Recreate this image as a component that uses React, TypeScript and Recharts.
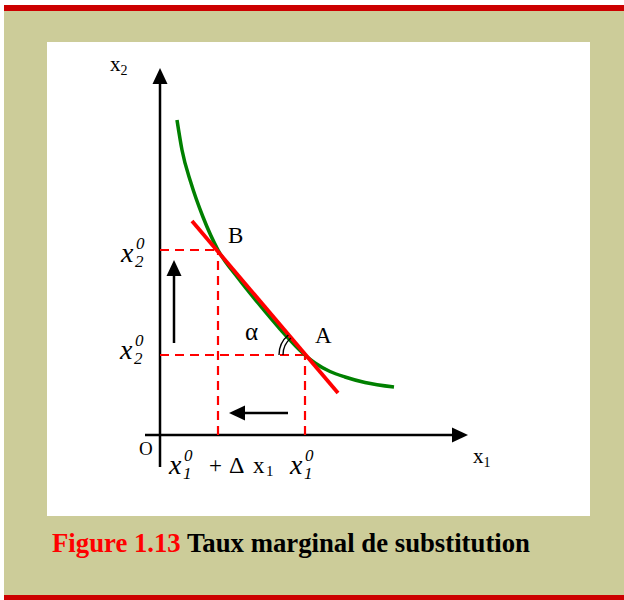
import { ComposedChart, Line, XAxis, YAxis, ReferenceDot } from "recharts"

// indifference curve (x1, x2)
const indifferenceCurve = [
  { x: 1.7, y: 31.5 },
  { x: 2.2, y: 28.5 },
  { x: 3.1, y: 25.2 },
  { x: 4.3, y: 21.8 },
  { x: 5.8, y: 18.5 },
  { x: 7.8, y: 15.7 },
  { x: 9.8, y: 13.2 },
  { x: 12.0, y: 10.6 },
  { x: 14.5, y: 8.0 },
  { x: 15.5, y: 7.2 },
  { x: 17.0, y: 6.35 },
  { x: 18.5, y: 5.8 },
  { x: 20.5, y: 5.25 },
  { x: 23.4, y: 4.8 },
]

const tangentLine = [
  { x: 3.2, y: 21.4 },
  { x: 17.8, y: 4.2 },
]

const pointB = { x: 5.8, y: 18.5 }
const pointA = { x: 14.5, y: 8.0 }

const xAxisLine = [
  { x: -1.5, y: 0 },
  { x: 30.8, y: 0 },
]
const yAxisLine = [
  { x: 0, y: -3.2 },
  { x: 0, y: 36.7 },
]

const upArrow = [
  { x: 1.4, y: 9.2 },
  { x: 1.4, y: 17.5 },
]
const leftArrow = [
  { x: 12.8, y: 2.2 },
  { x: 6.9, y: 2.2 },
]

const RED = "#ff0000"
const GREEN = "#008000"
const FONT = "'Liberation Serif', 'Times New Roman', serif"
const HEAD = 1.5 // arrow head length in data units

const shorten = (seg: { x: number; y: number }[]) => {
  const [a, b] = seg
  const dx = b.x - a.x
  const dy = b.y - a.y
  const len = Math.hypot(dx, dy)
  return [a, { x: b.x - (dx / len) * HEAD, y: b.y - (dy / len) * HEAD }]
}

const Head = (dir: "up" | "right" | "left") => (props: any) => {
  const { cx, cy } = props
  let pts = ""
  if (dir === "up") pts = `${cx},${cy} ${cx - 7.5},${cy + 16} ${cx + 7.5},${cy + 16}`
  if (dir === "right") pts = `${cx},${cy} ${cx - 16},${cy - 7.5} ${cx - 16},${cy + 7.5}`
  if (dir === "left") pts = `${cx},${cy} ${cx + 16},${cy - 7.5} ${cx + 16},${cy + 7.5}`
  return <polygon points={pts} fill="#000" />
}

const Txt = ({ x, y, size = 20, italic = false, children }: any) => (
  <text x={x} y={y} fontFamily={FONT} fontSize={size} fontStyle={italic ? "italic" : "normal"} fill="#000">
    {children}
  </text>
)

// x with superscript 0 and subscript index, stacked
const StackLabel = (index: string, dx: number, dy: number) => (props: any) => {
  const { cx, cy } = props
  return (
    <g>
      <Txt x={cx + dx} y={cy + dy + 12} size={28} italic>x</Txt>
      <Txt x={cx + dx + 15} y={cy + dy - 1} size={17} italic>0</Txt>
      <Txt x={cx + dx + 14} y={cy + dy + 17} size={17} italic>{index}</Txt>
    </g>
  )
}

const AngleMark = (props: any) => {
  const { cx, cy } = props
  const arc = (r: number) =>
    `M${cx - r},${cy} A${r},${r} 0 0 1 ${cx - r * 0.64},${cy - r * 0.77}`
  return (
    <g fill="none" stroke="#000" strokeWidth={1.4}>
      <path d={arc(22)} />
      <path d={arc(26)} />
    </g>
  )
}

const seg = (data: { x: number; y: number }[], stroke: string, width: number, dash?: string, type: any = "linear") => (
  <Line
    data={data}
    dataKey="y"
    type={type}
    stroke={stroke}
    strokeWidth={width}
    strokeDasharray={dash}
    dot={false}
    activeDot={false}
    legendType="none"
    isAnimationActive={false}
  />
)

export default function App() {
  return (
    <div style={{ position: "absolute", left: 0, top: 0, width: 624, height: 600, background: "#fff", overflow: "hidden" }}>
      <div style={{ position: "absolute", left: 4, top: 5, width: 620, height: 6, background: "#cc0000" }} />
      <div style={{ position: "absolute", left: 4, top: 11, width: 620, height: 584, background: "#cccc99" }} />
      <div style={{ position: "absolute", left: 47, top: 42, width: 543, height: 474, background: "#fff" }} />
      <div style={{ position: "absolute", left: 4, top: 595, width: 620, height: 5, background: "#cc0000" }} />
      <div
        style={{
          position: "absolute",
          left: 52,
          top: 526,
          fontFamily: FONT,
          fontWeight: "bold",
          fontSize: 28,
          lineHeight: "34px",
          whiteSpace: "nowrap",
          transform: "scaleX(0.955)",
          transformOrigin: "left center",
        }}
      >
        <span style={{ color: RED }}>Figure 1.13</span> <span style={{ color: "#000" }}>Taux marginal de substitution</span>
      </div>

      <div style={{ position: "absolute", left: 0, top: 0 }}>
        <ComposedChart width={624} height={600} margin={{ top: 0, right: 0, bottom: 0, left: 0 }}>
          <XAxis type="number" dataKey="x" domain={[-16, 46.4]} hide allowDataOverflow />
          <YAxis type="number" domain={[-16.5, 43.5]} hide allowDataOverflow />

          {/* axes */}
          {seg(shorten(xAxisLine), "#000", 2.5)}
          {seg(shorten(yAxisLine), "#000", 2.5)}

          {/* dashed guides */}
          {seg([{ x: 0, y: pointB.y }, pointB], RED, 2.2, "9 6")}
          {seg([{ x: pointB.x, y: 0 }, pointB], RED, 2.2, "9 6")}
          {seg([{ x: 0, y: pointA.y }, pointA], RED, 2.2, "9 6")}
          {seg([{ x: pointA.x, y: 0 }, pointA], RED, 2.2, "9 6")}

          {/* curve and tangent */}
          {seg(indifferenceCurve, GREEN, 3.5, undefined, "monotone")}
          {seg(tangentLine, RED, 3.8)}

          {/* small arrows */}
          {seg(shorten(upArrow), "#000", 2.5)}
          {seg(shorten(leftArrow), "#000", 2.5)}

          <ReferenceDot x={xAxisLine[1].x} y={0} r={0} ifOverflow="visible" shape={Head("right")} />
          <ReferenceDot x={0} y={yAxisLine[1].y} r={0} ifOverflow="visible" shape={Head("up")} />
          <ReferenceDot x={upArrow[1].x} y={upArrow[1].y} r={0} ifOverflow="visible" shape={Head("up")} />
          <ReferenceDot x={leftArrow[1].x} y={leftArrow[1].y} r={0} ifOverflow="visible" shape={Head("left")} />

          <ReferenceDot x={pointA.x} y={pointA.y} r={0} ifOverflow="visible" shape={AngleMark} />

          {/* labels */}
          <ReferenceDot
            x={pointB.x}
            y={pointB.y}
            r={0}
            ifOverflow="visible"
            shape={(p: any) => <Txt x={p.cx + 10} y={p.cy - 7} size={23}>B</Txt>}
          />
          <ReferenceDot
            x={pointA.x}
            y={pointA.y}
            r={0}
            ifOverflow="visible"
            shape={(p: any) => (
              <g>
                <Txt x={p.cx + 10} y={p.cy - 12} size={23}>A</Txt>
                <Txt x={p.cx - 60} y={p.cy - 15} size={25}>α</Txt>
              </g>
            )}
          />
          <ReferenceDot x={0} y={pointB.y} r={0} ifOverflow="visible" shape={StackLabel("2", -39, 0)} />
          <ReferenceDot x={0} y={pointA.y} r={0} ifOverflow="visible" shape={StackLabel("2", -40, -8)} />
          <ReferenceDot
            x={pointB.x}
            y={0}
            r={0}
            ifOverflow="visible"
            shape={(p: any) => (
              <g>
                {StackLabel("1", -49, 27)(p)}
                <Txt x={p.cx - 9} y={p.cy + 38} size={23}>+</Txt>
                <Txt x={p.cx + 11} y={p.cy + 38} size={24}>Δ</Txt>
                <Txt x={p.cx + 35} y={p.cy + 38} size={23}>x</Txt>
                <Txt x={p.cx + 48} y={p.cy + 41} size={15}>1</Txt>
              </g>
            )}
          />
          <ReferenceDot x={pointA.x} y={0} r={0} ifOverflow="visible" shape={StackLabel("1", -15, 27)} />
          <ReferenceDot
            x={0}
            y={0}
            r={0}
            ifOverflow="visible"
            shape={(p: any) => <Txt x={p.cx - 21} y={p.cy + 20} size={19}>O</Txt>}
          />
          <ReferenceDot
            x={xAxisLine[1].x}
            y={0}
            r={0}
            ifOverflow="visible"
            shape={(p: any) => (
              <text x={p.cx + 5} y={p.cy + 28} fontFamily={FONT} fontSize={21} fill="#000">
                x<tspan fontSize={14} dy={4}>1</tspan>
              </text>
            )}
          />
          <ReferenceDot
            x={0}
            y={yAxisLine[1].y}
            r={0}
            ifOverflow="visible"
            shape={(p: any) => (
              <text x={p.cx - 50} y={p.cy + 3} fontFamily={FONT} fontSize={21} fill="#000">
                x<tspan fontSize={14} dy={4}>2</tspan>
              </text>
            )}
          />
        </ComposedChart>
      </div>
    </div>
  )
}
